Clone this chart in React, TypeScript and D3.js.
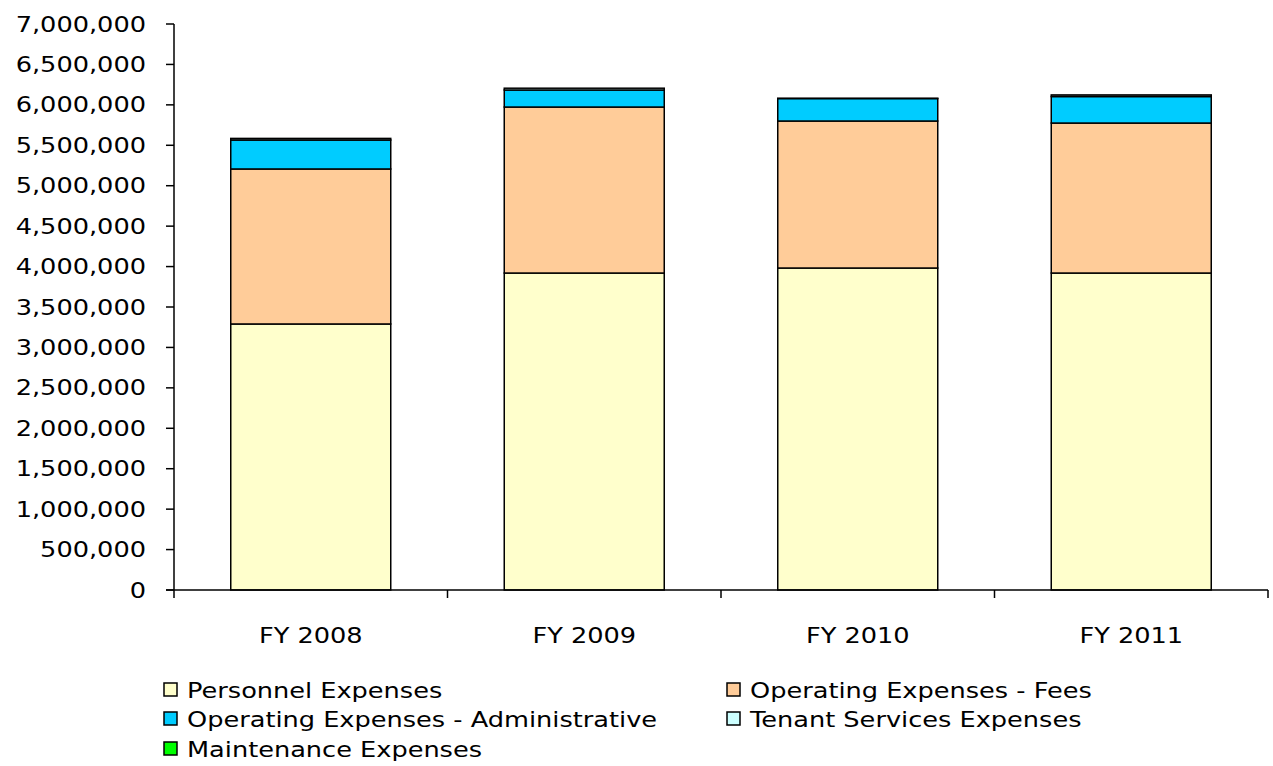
import React from "react";
import * as d3 from "d3";

const categories = ["FY 2008", "FY 2009", "FY 2010", "FY 2011"];
const seriesNames = [
  "Personnel Expenses",
  "Operating Expenses - Fees",
  "Operating Expenses - Administrative",
  "Tenant Services Expenses",
  "Maintenance Expenses",
];
const personnel = [3290000, 3920000, 3982000, 3920000];
const fees = [1917000, 2053000, 1818000, 1855000];
const administrative = [358000, 211000, 278000, 328000];
const tenant = [20000, 22000, 3000, 20000];
const maintenance = [0, 0, 0, 0];
const colors = ["#FFFFCC", "#FFCC99", "#00CCFF", "#CCFFFF", "#00FF00"];
const yTicks = [0, 500000, 1000000, 1500000, 2000000, 2500000, 3000000, 3500000, 4000000, 4500000, 5000000, 5500000, 6000000, 6500000, 7000000];

const W = 1273;
const H = 766;
const left = 174;
const right = 1268;
const top = 24;
const bottom = 590;
const FS = 20.5;
const SX = 1.25;
const FONT = "Verdana, 'DejaVu Sans', sans-serif";

function T({ x, y, anchor = "start", children }: any) {
  return (
    <g transform={`translate(${x},${y}) scale(${SX},1)`}>
      <text fontFamily={FONT} fontSize={FS} textAnchor={anchor} dominantBaseline="central" fill="#000">
        {children}
      </text>
    </g>
  );
}

export default function App() {
  const values = [personnel, fees, administrative, tenant, maintenance];
  const x = d3.scaleBand().domain(categories).range([left, right]).paddingInner(0.415).paddingOuter(0.2075);
  const xOuter = d3.scaleBand().domain(categories).range([left, right]);
  const y = d3.scaleLinear().domain([0, 7000000]).range([bottom, top]);
  const table = categories.map((c, i) => {
    const row: any = { cat: c };
    seriesNames.forEach((s, k) => (row[s] = values[k][i]));
    return row;
  });
  const stack = d3.stack().keys(seriesNames)(table);

  const legendItems = [
    { name: seriesNames[0], c: colors[0], lx: 164, ly: 690 },
    { name: seriesNames[1], c: colors[1], lx: 727, ly: 690 },
    { name: seriesNames[2], c: colors[2], lx: 164, ly: 719 },
    { name: seriesNames[3], c: colors[3], lx: 727, ly: 719 },
    { name: seriesNames[4], c: colors[4], lx: 164, ly: 749 },
  ];

  return (
    <svg width={W} height={H} style={{ position: "absolute", left: 0, top: 0, background: "#fff" }}>
      {stack.map((layer, k) => (
        <g key={k}>
          {layer.map((d, i) => (
            <rect
              key={i}
              x={x(categories[i])!}
              y={y(d[1])}
              width={x.bandwidth()}
              height={Math.max(0, y(d[0]) - y(d[1]))}
              fill={colors[k]}
              stroke="#000"
              strokeWidth={1.5}
            />
          ))}
        </g>
      ))}
      {/* y axis */}
      <line x1={left} x2={left} y1={top} y2={bottom} stroke="#000" strokeWidth={1.5} />
      {yTicks.map((t) => (
        <g key={t}>
          <line x1={left - 8} x2={left} y1={y(t)} y2={y(t)} stroke="#000" strokeWidth={1.5} />
          <T x={146} y={y(t)} anchor="end">{d3.format(",")(t)}</T>
        </g>
      ))}
      {/* x axis */}
      <line x1={left - 8} x2={right} y1={bottom} y2={bottom} stroke="#000" strokeWidth={1.5} />
      {[...categories.map((c) => xOuter(c)!), right].map((v, i) => (
        <line key={i} x1={v} x2={v} y1={bottom} y2={bottom + 8} stroke="#000" strokeWidth={1.5} />
      ))}
      {categories.map((c) => (
        <T key={c} x={xOuter(c)! + xOuter.bandwidth() / 2} y={635} anchor="middle">{c}</T>
      ))}
      {legendItems.map((l) => (
        <g key={l.name}>
          <rect x={l.lx} y={l.ly - 7} width={13} height={13} fill={l.c} stroke="#000" strokeWidth={1.5} />
          <T x={l.lx + 23} y={l.ly}>{l.name}</T>
        </g>
      ))}
    </svg>
  );
}
